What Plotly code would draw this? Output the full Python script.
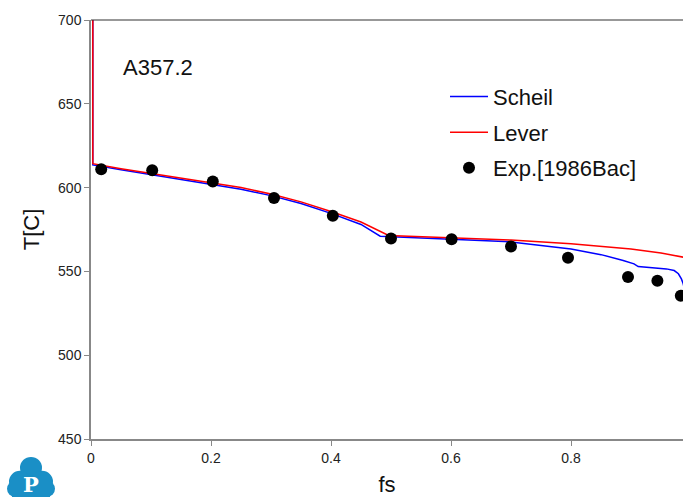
import plotly.graph_objects as go

# ---- data ----
scheil_fs = [0.0030, 0.0030, 0.05, 0.10, 0.15, 0.20, 0.25, 0.30, 0.35, 0.40, 0.45, 0.482,
             0.55, 0.60, 0.70, 0.80, 0.85, 0.887, 0.905, 0.912, 0.94, 0.959, 0.972,
             0.979, 0.984, 0.987, 0.992]
scheil_T = [712, 613.5, 610.6, 607.6, 604.9, 602.0, 599.0, 595.2, 590.5, 584.6, 578.0, 571.0,
            569.9, 569.2, 567.6, 563.3, 560.0, 556.5, 554.5, 552.9, 552.1, 551.5, 550.5,
            548.6, 545.5, 542.6, 535.0]

lever_fs = [0.0030, 0.0030, 0.05, 0.10, 0.15, 0.20, 0.25, 0.30, 0.35, 0.40, 0.45, 0.496,
            0.55, 0.60, 0.70, 0.80, 0.90, 0.95, 0.99]
lever_T = [712, 614.3, 611.3, 608.4, 605.8, 603.0, 600.0, 596.2, 591.5, 585.7, 579.5, 571.4,
           570.6, 569.9, 568.7, 566.5, 563.4, 561.0, 558.3]

exp_fs = [0.017, 0.102, 0.203, 0.305, 0.403, 0.500, 0.601, 0.700, 0.795, 0.895, 0.944, 0.983]
exp_T = [611.0, 610.4, 603.7, 593.8, 583.2, 569.6, 569.2, 564.9, 558.2, 546.6, 544.4, 535.5]

x_ticks = [0, 0.2, 0.4, 0.6, 0.8]
x_tick_labels = ["0", "0.2", "0.4", "0.6", "0.8"]
y_ticks = [450, 500, 550, 600, 650, 700]
y_tick_labels = ["450", "500", "550", "600", "650", "700"]

FONT = "Arial, Liberation Sans, sans-serif"

fig = go.Figure()
fig.add_trace(go.Scatter(x=scheil_fs, y=scheil_T, mode="lines", name="Scheil",
                         line=dict(color="#0000ff", width=1.5), legendgroup="a"))
fig.add_trace(go.Scatter(x=lever_fs, y=lever_T, mode="lines", name="Lever",
                         line=dict(color="#ff0000", width=1.5), legendgroup="b"))
fig.add_trace(go.Scatter(x=exp_fs, y=exp_T, mode="markers", name="Exp.[1986Bac]",
                         marker=dict(color="#000000", size=12), legendgroup="c",
                         cliponaxis=False))

W, H = 683, 497
ML, MR, MT, MB = 91, 0, 20, 56
PW, PH = W - ML - MR, H - MT - MB


def px(xp):
    return (xp - ML) / PW


def py(yp):
    return (H - MB - yp) / PH


shapes = [
    dict(type="line", xref="paper", yref="paper", x0=0, x1=1, y0=1, y1=1,
         line=dict(color="#333333", width=1.2)),
]
logo_color = "#1a8fc6"
for cx, cy, r in [(31, 470, 11), (20, 484, 11), (42, 484, 11), (15, 491, 8), (47, 491, 8)]:
    shapes.append(dict(type="circle", xref="paper", yref="paper",
                       x0=px(cx - r), x1=px(cx + r), y0=py(cy + r), y1=py(cy - r),
                       fillcolor=logo_color, line=dict(width=0), layer="above"))
shapes.append(dict(type="rect", xref="paper", yref="paper",
                   x0=px(12), x1=px(50), y0=py(500), y1=py(478),
                   fillcolor=logo_color, line=dict(width=0), layer="above"))

fig.update_layout(
    width=W, height=H,
    margin=dict(l=ML, r=MR, t=MT, b=MB),
    paper_bgcolor="white", plot_bgcolor="white",
    font=dict(family=FONT, color="#222222"),
    showlegend=True,
    legend=dict(x=px(445), y=py(76), xanchor="left", yanchor="top",
                font=dict(size=22, color="#111111", family=FONT),
                bgcolor="rgba(0,0,0,0)", tracegroupgap=4, itemwidth=38),
    xaxis=dict(range=[0, (W - ML - MR) / 600.0], tickvals=x_ticks, ticktext=x_tick_labels,
               showgrid=False, zeroline=False, showline=True, linecolor="#888888",
               linewidth=1.5, ticks="outside", ticklen=5, tickcolor="#888888",
               tickfont=dict(size=14, color="#222222"),
               title=dict(text="fs", font=dict(size=22, color="#111111"), standoff=16)),
    yaxis=dict(range=[450, 700], tickvals=y_ticks, ticktext=y_tick_labels,
               showgrid=False, zeroline=False, showline=True, linecolor="#888888",
               linewidth=1.5, ticks="outside", ticklen=5, tickcolor="#888888",
               tickfont=dict(size=14, color="#222222"),
               title=dict(text="T[C]", font=dict(size=22, color="#111111"), standoff=12)),
    shapes=shapes,
    annotations=[
        dict(text="A357.2", x=0.050, y=671.5, xref="x", yref="y", xanchor="left",
             yanchor="middle", showarrow=False, font=dict(size=22, color="#111111")),
        dict(text="<b>P</b>", x=px(31), y=py(487), xref="paper", yref="paper",
             xanchor="center", yanchor="middle", showarrow=False,
             font=dict(size=21, color="white", family="DejaVu Serif, serif")),
    ],
)

fig.write_html("out.html", config={"displayModeBar": False},
               post_script="document.body.style.margin='0px';")
